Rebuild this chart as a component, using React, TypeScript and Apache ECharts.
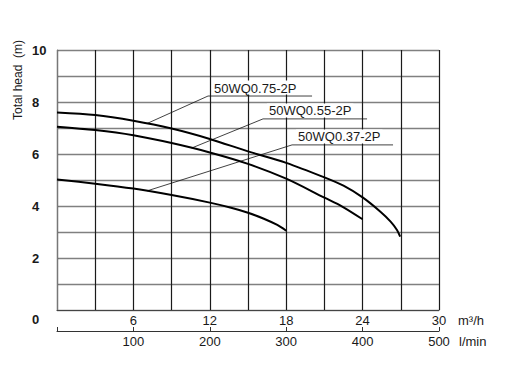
import React, { useEffect, useRef } from "react";
import * as echarts from "echarts";

// Pump curves: flow (m³/h) vs total head (m)
const flow075 = [0, 3, 6, 9, 12, 15, 18, 21, 22.5, 24, 25.4, 26.2, 26.7, 26.95];
const head075 = [7.6, 7.5, 7.28, 6.98, 6.58, 6.1, 5.66, 5.1, 4.78, 4.33, 3.78, 3.4, 3.08, 2.82];
const flow055 = [0, 3, 6, 9, 12, 15, 18, 21, 22.4, 24];
const head055 = [7.05, 6.92, 6.72, 6.42, 6.06, 5.62, 5.05, 4.32, 3.98, 3.49];
const flow037 = [0, 3, 6, 9, 12, 13.6, 15, 16.2, 17.3, 18];
const head037 = [5.02, 4.86, 4.67, 4.42, 4.13, 3.94, 3.74, 3.52, 3.27, 3.05];

const models = ["50WQ0.75-2P", "50WQ0.55-2P", "50WQ0.37-2P"];
// leader annotations (data coordinates)
const leaderCurveX = [7.07, 10.58, 7.07];
const labelAnchorX = [11.86, 16.18, 18.46];
const labelAnchorY = [8.23, 7.35, 6.35];
const labelLineEndX = [20.03, 24.35, 26.39];

const flowTicksM3h = [0, 30, 3];
const flowTicksLmin = [0, 500, 100];
const headTicks = [0, 10, 1];

const FONT = "Liberation Sans, Arial, sans-serif";
const TXT = "#1a1a1a";

function interp(xs: number[], ys: number[], x: number) {
  for (let i = 0; i < xs.length - 1; i++) {
    if (x >= xs[i] && x <= xs[i + 1]) {
      const t = (x - xs[i]) / (xs[i + 1] - xs[i]);
      return ys[i] + t * (ys[i + 1] - ys[i]);
    }
  }
  return ys[ys.length - 1];
}

export default function App() {
  const ref = useRef<HTMLDivElement>(null);
  useEffect(() => {
    if (!ref.current) return;
    const chart = echarts.init(ref.current, null, { renderer: "svg" });
    const curves = [
      [flow075, head075],
      [flow055, head055],
      [flow037, head037],
    ];
    const curveSeries = curves.map(([xs, ys], i) => ({
      type: "line",
      name: models[i],
      data: xs.map((x, j) => [x, ys[j]]),
      smooth: 0.3,
      symbol: "none",
      lineStyle: { color: "#000", width: 2 },
      xAxisIndex: 0,
      yAxisIndex: 0,
      silent: true,
      z: 3,
    }));
    const leaderSeries = curves.map(([xs, ys], i) => ({
      type: "line",
      name: "leader" + i,
      data: [
        [leaderCurveX[i], interp(xs, ys, leaderCurveX[i])],
        [labelAnchorX[i], labelAnchorY[i]],
        [labelLineEndX[i], labelAnchorY[i]],
      ],
      symbol: "none",
      lineStyle: { color: "#111", width: 0.8 },
      xAxisIndex: 0,
      yAxisIndex: 0,
      silent: true,
      z: 2,
    }));
    const staticGraphics = [
      {
        type: "text",
        x: 18,
        y: 80,
        rotation: Math.PI / 2,
        style: {
          text: "Total head  (m)",
          fill: TXT,
          font: `12px ${FONT}`,
          textAlign: "center",
          textVerticalAlign: "middle",
        },
      },
      {
        type: "text",
        x: 32,
        y: 319,
        style: { text: "0", fill: TXT, font: `bold 13px ${FONT}`, textVerticalAlign: "middle" },
      },
      {
        type: "text",
        x: 458,
        y: 320,
        style: { text: "m³/h", fill: TXT, font: `13px ${FONT}`, textVerticalAlign: "middle" },
      },
      {
        type: "text",
        x: 459,
        y: 341,
        style: { text: "l/min", fill: TXT, font: `13px ${FONT}`, textVerticalAlign: "middle" },
      },
    ];
    chart.setOption({
      animation: false,
      backgroundColor: "#fff",
      grid: { left: 57, right: 76, top: 50, bottom: 58 },
      xAxis: [
        {
          type: "value",
          min: flowTicksM3h[0],
          max: flowTicksM3h[1],
          interval: flowTicksM3h[2],
          position: "bottom",
          axisLine: { show: true, lineStyle: { color: "#444", width: 1.2 } },
          axisTick: { show: false },
          axisLabel: {
            formatter: (v: number) => (v % 6 === 0 && v !== 0 ? String(v) : ""),
            color: TXT,
            fontSize: 13,
            fontFamily: FONT,
            margin: 4,
          },
          splitLine: { show: true, lineStyle: { color: "#1a1a1a", width: 1.2 } },
        },
        {
          type: "value",
          min: flowTicksLmin[0],
          max: flowTicksLmin[1],
          interval: flowTicksLmin[2],
          position: "bottom",
          offset: 21,
          axisLine: { show: true, lineStyle: { color: "#333", width: 1 } },
          axisTick: { show: true, inside: true, length: 4, lineStyle: { color: "#333" } },
          axisLabel: {
            formatter: (v: number) => (v === 0 ? "" : String(v)),
            color: TXT,
            fontSize: 13,
            fontFamily: FONT,
            margin: 4,
          },
          splitLine: { show: false },
        },
      ],
      yAxis: {
        type: "value",
        min: headTicks[0],
        max: headTicks[1],
        interval: headTicks[2],
        axisLine: { show: true, lineStyle: { color: "#777", width: 1.2 } },
        axisTick: { show: false },
        axisLabel: {
          formatter: (v: number) => (v % 2 === 0 && v !== 0 ? String(v) : ""),
          color: TXT,
          fontSize: 13,
          fontWeight: "bold",
          fontFamily: FONT,
          align: "left",
          margin: 25,
        },
        splitLine: { show: true, lineStyle: { color: "#808080", width: 1.3 } },
      },
      series: [...curveSeries, ...leaderSeries],
      graphic: staticGraphics,
    });
    const labelGraphics = models.map((m, i) => {
      const p = chart.convertToPixel({ xAxisIndex: 0, yAxisIndex: 0 }, [
        labelAnchorX[i],
        labelAnchorY[i],
      ]) as number[];
      return {
        type: "text",
        x: p[0] + 4,
        y: p[1] - 1.5,
        z: 10,
        style: {
          text: m,
          fill: TXT,
          font: `13px ${FONT}`,
          textVerticalAlign: "bottom",
          backgroundColor: "#fff",
          padding: [1, 2, 0, 2],
        },
      };
    });
    chart.setOption({ graphic: [...staticGraphics, ...labelGraphics] });
    return () => chart.dispose();
  }, []);
  return (
    <div
      ref={ref}
      style={{ position: "fixed", left: 0, top: 0, width: 515, height: 368 }}
    />
  );
}
